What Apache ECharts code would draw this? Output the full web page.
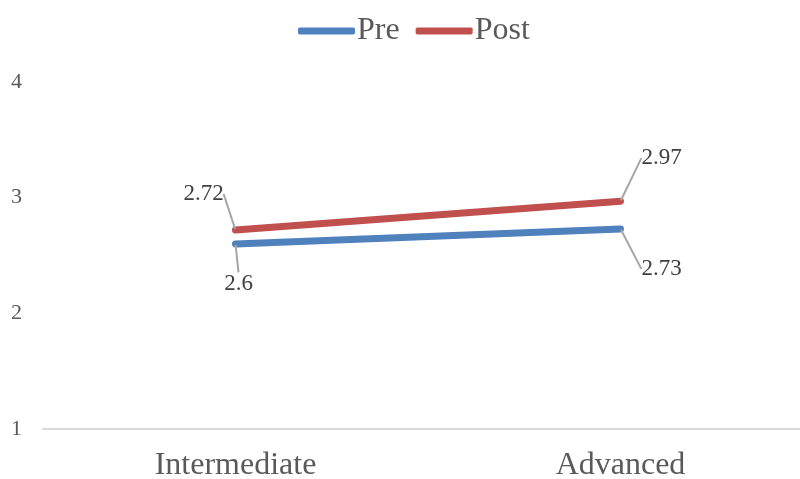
<!DOCTYPE html>
<html><head><meta charset="utf-8">
<script src="https://cdn.jsdelivr.net/npm/echarts@6/dist/echarts.min.js"></script>
<style>html,body{margin:0;padding:0;background:#fff}#c{width:800px;height:479px}</style>
</head><body><div id="c"></div>
<script>
const categories = ['Intermediate', 'Advanced'];
const preValues = [2.6, 2.73];
const postValues = [2.72, 2.97];
const yTicks = [1, 2, 3, 4];

const labelOffsets = {
  0: [[3, 40], [41, 40]],
  1: [[-32, -36], [41, -43]]
};

const chart = echarts.init(document.getElementById('c'));
const font = '"Liberation Serif", "Times New Roman", serif';
function mk(name, data, color, si) {
  return {
    name, type: 'line', data, symbol: 'circle', symbolSize: 2, showSymbol: true,
    lineStyle: { color, width: 7, cap: 'round' },
    itemStyle: { color },
    label: { show: true, position: 'inside', fontFamily: font, fontSize: 23, color: '#404040' },
    labelLine: { show: true, lineStyle: { color: '#a6a6a6', width: 2 } },
    labelLayout: p => ({ dx: labelOffsets[si][p.dataIndex][0], dy: labelOffsets[si][p.dataIndex][1] }),
    emphasis: { disabled: true }
  };
}
chart.setOption({
  animation: false,
  legend: {
    top: 10, left: 293, itemWidth: 57, itemHeight: 7, itemGap: 16,
    icon: 'roundRect',
    textStyle: { fontFamily: font, fontSize: 32, color: '#595959', padding: [0, 0, 0, -3] },
    data: ['Pre', 'Post']
  },
  grid: { left: 43, width: 770, top: 82, height: 347, outerBoundsMode: 'none', containLabel: false },
  xAxis: {
    type: 'category', data: categories,
    axisLine: { lineStyle: { color: '#d9d9d9', width: 2 } },
    axisTick: { show: false },
    axisLabel: { fontFamily: font, fontSize: 32, color: '#595959', margin: 21 }
  },
  yAxis: {
    type: 'value', min: yTicks[0], max: yTicks[yTicks.length - 1], interval: 1,
    splitLine: { show: false },
    axisLine: { show: false }, axisTick: { show: false },
    axisLabel: { fontFamily: font, fontSize: 22, color: '#595959', align: 'left', margin: 32 }
  },
  series: [mk('Pre', preValues, '#4F81BD', 0), mk('Post', postValues, '#C0504D', 1)]
});
</script></body></html>
